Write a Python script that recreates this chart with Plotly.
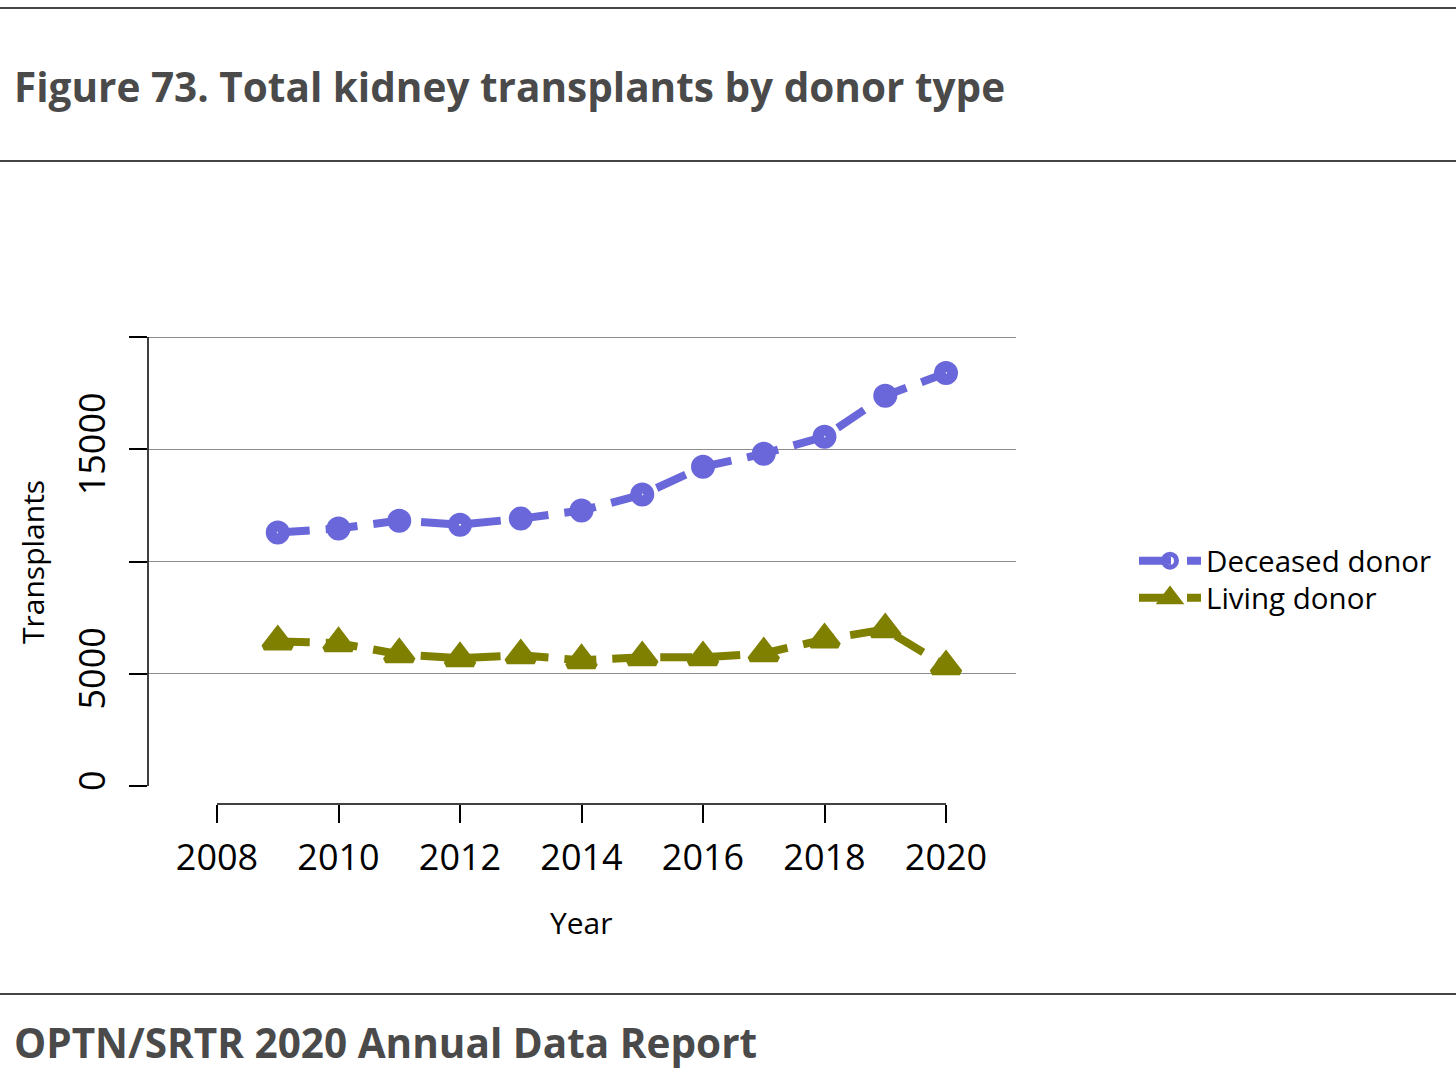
import plotly.graph_objects as go

# ---- data ----
years = [2009, 2010, 2011, 2012, 2013, 2014, 2015, 2016, 2017, 2018, 2019, 2020]
deceased = [11290, 11470, 11820, 11640, 11910, 12270, 12980, 14220, 14800, 15560, 17380, 18400]
living = [6440, 6360, 5870, 5690, 5820, 5600, 5730, 5730, 5910, 6530, 6980, 5330]

x_ticks = [2008, 2010, 2012, 2014, 2016, 2018, 2020]
y_ticks = [0, 5000, 10000, 15000, 20000]
y_ticktext = ["0", "5000", "", "15000", ""]

title_text = "Figure 73. Total kidney transplants by donor type"
footer_text = "OPTN/SRTR 2020 Annual Data Report"

W, H = 1456, 1092
BLUE = "#6967D9"
OLIVE = "#7F7F00"
FONT = "Open Sans"

def px_x(p):
    return p / W

def px_y(p):
    return 1 - p / H

fig = go.Figure()
fig.add_trace(go.Scatter(
    x=years, y=deceased, name="Deceased donor", mode="lines+markers",
    line=dict(color=BLUE, width=8, dash="32px,16px"),
    marker=dict(symbol="circle-open", size=13, color=BLUE, line=dict(color=BLUE, width=11)),
    legend="legend",
))
fig.add_trace(go.Scatter(
    x=years, y=living, name="Living donor", mode="lines+markers",
    line=dict(color=OLIVE, width=8, dash="32px,16px"),
    marker=dict(symbol="triangle-up", size=24, color=OLIVE, line=dict(color=OLIVE, width=6)),
    legend="legend2",
))

# axis geometry
x_left_px, x_right_px = 148, 1016
y_top_px, y_bot_px = 320, 804
px_per_year = (946 - 217) / 12.0
px_per_unit = (786 - 337) / 20000.0
xr = [2008 - (217 - x_left_px) / px_per_year, 2020 + (x_right_px - 946) / px_per_year]
yr = [-(y_bot_px - 786) / px_per_unit, 20000 + (337 - y_top_px) / px_per_unit]

legend_common = dict(
    xanchor="left", yanchor="middle",
    font=dict(size=29.5, family=FONT, color="black"),
    bgcolor="rgba(0,0,0,0)", itemwidth=62,
)

fig.update_layout(
    width=W, height=H,
    margin=dict(l=0, r=0, t=0, b=0),
    paper_bgcolor="white", plot_bgcolor="white",
    font=dict(family=FONT, color="black"),
    showlegend=True,
    legend=dict(x=px_x(1134), y=px_y(561), **legend_common),
    legend2=dict(x=px_x(1134), y=px_y(598), **legend_common),
    xaxis=dict(
        domain=[px_x(x_left_px), px_x(x_right_px)],
        range=xr, tickvals=x_ticks, ticks="outside", ticklen=18, tickwidth=1.5,
        tickcolor="black", showline=False, showgrid=False, zeroline=False,
        tickfont=dict(size=36, family=FONT, color="black"),
        ticklabelstandoff=4,
        anchor="y",
    ),
    yaxis=dict(
        domain=[px_y(y_bot_px), px_y(y_top_px)],
        range=yr, tickvals=y_ticks, ticktext=y_ticktext, ticks="outside",
        ticklen=18, tickwidth=1.5, tickcolor="black", tickangle=-90,
        showline=False, showgrid=True, gridcolor="#8c8c8c", gridwidth=1.2,
        zeroline=True, zerolinecolor="white", zerolinewidth=3,
        tickfont=dict(size=36, family=FONT, color="black"),
        ticklabelstandoff=10,
        anchor="x",
    ),
)

# axis lines (R style, spanning only the tick range)
fig.add_shape(type="line", xref="paper", yref="y", x0=px_x(x_left_px), x1=px_x(x_left_px),
              y0=y_ticks[0], y1=y_ticks[-1], line=dict(color="black", width=1.5), layer="above")
fig.add_shape(type="line", xref="x", yref="paper", x0=x_ticks[0], x1=x_ticks[-1],
              y0=px_y(y_bot_px), y1=px_y(y_bot_px), line=dict(color="black", width=1.5), layer="above")

# page rules
for yy in [8, 161, 994]:
    fig.add_shape(type="line", xref="paper", yref="paper", x0=0, x1=1,
                  y0=px_y(yy), y1=px_y(yy), line=dict(color="#444444", width=2))

# texts
fig.add_annotation(text=title_text, xref="paper", yref="paper", x=px_x(12), y=px_y(87),
                   xanchor="left", yanchor="middle", showarrow=False,
                   font=dict(size=40.5, family=FONT, color="#4a4a4a", weight="bold"))
fig.add_annotation(text=footer_text, xref="paper", yref="paper", x=px_x(12), y=px_y(1042),
                   xanchor="left", yanchor="middle", showarrow=False,
                   font=dict(size=40.5, family=FONT, color="#4a4a4a", weight="bold"))
fig.add_annotation(text="Year", xref="paper", yref="paper", x=px_x(581), y=px_y(922),
                   xanchor="center", yanchor="middle", showarrow=False,
                   font=dict(size=30, family=FONT, color="black"))
fig.add_annotation(text="Transplants", xref="paper", yref="paper", x=px_x(32), y=px_y(562),
                   xanchor="center", yanchor="middle", showarrow=False, textangle=-90,
                   font=dict(size=30, family=FONT, color="black"))

fig.write_html(
    "out.html",
    config={"displayModeBar": False},
    post_script="document.body.style.margin='0px';document.body.style.overflow='hidden';",
)
